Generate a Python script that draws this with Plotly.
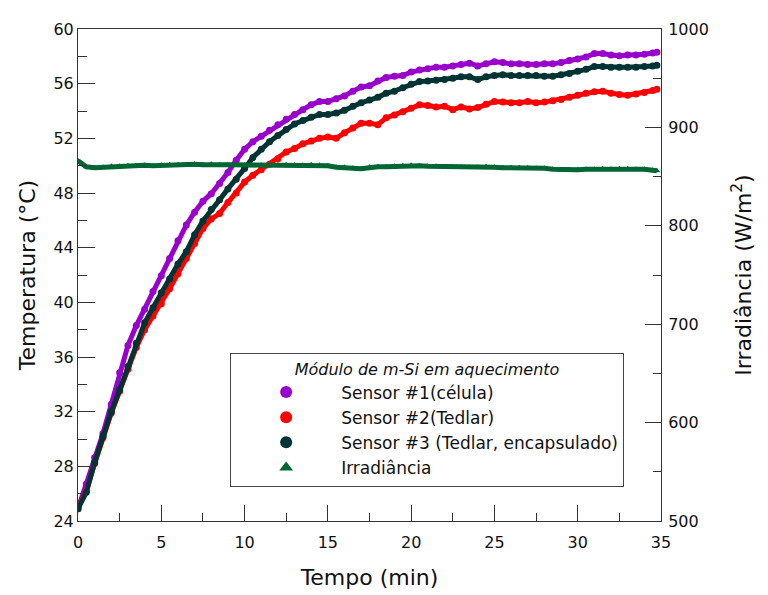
import plotly.graph_objects as go

# Time (min)
tempo = [0, 0.5, 1, 1.5, 2, 2.5, 3, 3.5, 4, 4.5, 5, 5.5, 6, 6.5, 7, 7.5, 8, 8.5, 9, 9.5,
         10, 10.5, 11, 11.5, 12, 12.5, 13, 13.5, 14, 14.5, 15, 15.5, 16, 16.5, 17, 17.5,
         18, 18.5, 19, 19.5, 20, 20.5, 21, 21.5, 22, 22.5, 23, 23.5, 24, 24.5, 25, 25.5,
         26, 26.5, 27, 27.5, 28, 28.5, 29, 29.5, 30, 30.5, 31, 31.5, 32, 32.5, 33, 33.5,
         34, 34.5, 34.75]

# Sensor #1 (célula) temperature (°C)
sensor1 = [24.9, 26.7, 28.65, 30.4, 32.55, 34.85, 36.85, 38.3, 39.5, 40.8, 41.95, 43.2, 44.5,
           45.65, 46.6, 47.4, 47.95, 48.7, 49.5, 50.4, 51.2, 51.75, 52.15, 52.6, 53.0, 53.4,
           53.75, 54.1, 54.45, 54.7, 54.7, 54.9, 55.1, 55.45, 55.75, 55.85, 56.2, 56.45, 56.55,
           56.6, 56.85, 57.0, 57.1, 57.2, 57.2, 57.3, 57.4, 57.5, 57.3, 57.45, 57.6, 57.55,
           57.45, 57.45, 57.4, 57.4, 57.45, 57.45, 57.55, 57.7, 57.8, 57.95, 58.2, 58.2, 58.1,
           58.05, 58.1, 58.1, 58.15, 58.25, 58.3]

# Sensor #2 (Tedlar) temperature (°C)
sensor2 = [24.95, 26.2, 28.2, 30.1, 31.9, 33.5, 35.1, 36.7, 38.0, 39.0, 39.9, 41.0, 42.1,
           43.2, 44.3, 45.4, 46.1, 46.5, 47.3, 48.0, 48.8, 49.3, 49.7, 50.1, 50.5, 51.0,
           51.25, 51.6, 51.8, 52.0, 52.1, 52.0, 52.4, 52.75, 53.1, 53.1, 53.0, 53.5, 53.7,
           53.95, 54.2, 54.45, 54.4, 54.3, 54.35, 54.1, 54.3, 54.15, 54.25, 54.5, 54.7, 54.65,
           54.6, 54.6, 54.7, 54.6, 54.65, 54.75, 54.85, 55.0, 55.15, 55.3, 55.4, 55.45, 55.3,
           55.2, 55.15, 55.25, 55.35, 55.5, 55.6]

# Sensor #3 (Tedlar, encapsulado) temperature (°C)
sensor3 = [24.9, 26.1, 28.3, 30.2, 32.0, 33.6, 35.3, 37.0, 38.5, 39.6, 40.7, 41.7, 42.8,
           43.7, 44.95, 45.95, 46.8, 47.5, 48.3, 49.0, 49.8, 50.6, 51.2, 51.75, 52.2, 52.65,
           53.05, 53.3, 53.55, 53.75, 53.75, 53.85, 54.05, 54.35, 54.6, 54.8, 55.0, 55.3, 55.45,
           55.7, 55.95, 56.15, 56.2, 56.25, 56.3, 56.4, 56.5, 56.5, 56.3, 56.5, 56.6, 56.65,
           56.6, 56.6, 56.6, 56.6, 56.55, 56.55, 56.65, 56.75, 56.9, 57.05, 57.25, 57.25, 57.2,
           57.2, 57.2, 57.2, 57.25, 57.3, 57.35]

# Irradiância (W/m²)
irradiancia = [866, 860, 859, 859.5, 860.5, 860.5, 861, 861, 861.5, 861, 861.5, 862, 862, 862,
               862.5, 862, 862.5, 862, 862, 862, 861.5, 861, 861.5, 861.5, 861.5, 862, 861.5,
               861.5, 862, 861.5, 861, 859.5, 859.5, 858.5, 858, 859.5, 860, 860, 860.5, 861,
               861.5, 861, 860.5, 860.5, 860, 860, 859.5, 859.5, 859.5, 860, 859.5, 859, 859,
               859, 859, 858.5, 858.5, 857.5, 857, 857, 857, 857.5, 857.5, 858, 857.5, 858, 858,
               857.5, 857.5, 856.5, 856]

names = ["Sensor #1(célula)", "Sensor #2(Tedlar)", "Sensor #3 (Tedlar, encapsulado)", "Irradiância"]
colors = ["#9900CC", "#FF0000", "#003333", "#006633"]

fig = go.Figure()

series = [(sensor1, "y", "circle"), (sensor2, "y", "circle"), (sensor3, "y", "circle"),
          (irradiancia, "y2", "triangle-up")]

for i, (vals, yax, sym) in enumerate(series):
    fig.add_trace(go.Scatter(
        x=tempo, y=vals, yaxis=yax, mode="lines",
        line=dict(color=colors[i], width=5),
        showlegend=False, legendgroup=f"g{i}", hoverinfo="skip"))
    fig.add_trace(go.Scatter(
        x=tempo, y=vals, yaxis=yax, mode="markers", name=names[i],
        marker=dict(color=colors[i], size=7 if sym == "circle" else 6, symbol=sym),
        legendgroup=f"g{i}"))

FONT = "DejaVu Sans, Verdana, sans-serif"
axis_font = dict(family=FONT, size=16, color="#111")
title_font = dict(family=FONT, size=22, color="#111")
line_col = "#333"

fig.update_layout(
    width=768, height=595,
    margin=dict(l=70, r=115, t=16, b=82),
    paper_bgcolor="white", plot_bgcolor="white",
    xaxis=dict(
        range=[0, 35], dtick=5, tick0=0, ticks="inside", ticklen=16, tickcolor=line_col,
        showline=True, linecolor=line_col, linewidth=1, mirror=True, showgrid=False,
        zeroline=False, tickfont=axis_font, ticklabelstandoff=7,
        minor=dict(dtick=2.5, ticklen=8, ticks="inside", tickcolor=line_col, showgrid=False),
        title=dict(text="Tempo (min)", font=title_font, standoff=18),
    ),
    yaxis=dict(
        range=[24, 60], dtick=4, tick0=24, ticks="inside", ticklen=17, tickcolor=line_col,
        showline=True, linecolor=line_col, linewidth=1, showgrid=False, zeroline=False,
        tickfont=axis_font,
        minor=dict(dtick=2, ticklen=9, ticks="inside", tickcolor=line_col, showgrid=False),
        title=dict(text="Temperatura (°C)", font=title_font, standoff=11),
    ),
    yaxis2=dict(
        range=[500, 1000], dtick=100, tick0=500, ticks="inside", ticklen=16,
        tickcolor=line_col, overlaying="y", side="right", anchor="x",
        showline=True, linecolor=line_col, linewidth=1, showgrid=False, zeroline=False,
        tickfont=axis_font, ticklabelstandoff=3,
        minor=dict(dtick=50, ticklen=8, ticks="inside", tickcolor=line_col, showgrid=False),
        title=dict(text="Irradiância (W/m<sup>2</sup>)", font=title_font, standoff=27),
    ),
    legend=dict(
        x=0.261, y=0.342, xanchor="left", yanchor="top",
        bgcolor="white", bordercolor="#444", borderwidth=1,
        font=dict(family=FONT, size=17, color="#111"),
        title=dict(text="<i>Módulo de m-Si em aquecimento</i>", side="top center",
                   font=dict(family=FONT, size=16, color="#111")),
        itemsizing="constant", itemwidth=100,
        traceorder="grouped", tracegroupgap=0,
    ),
)

fig.write_html("out.html")
